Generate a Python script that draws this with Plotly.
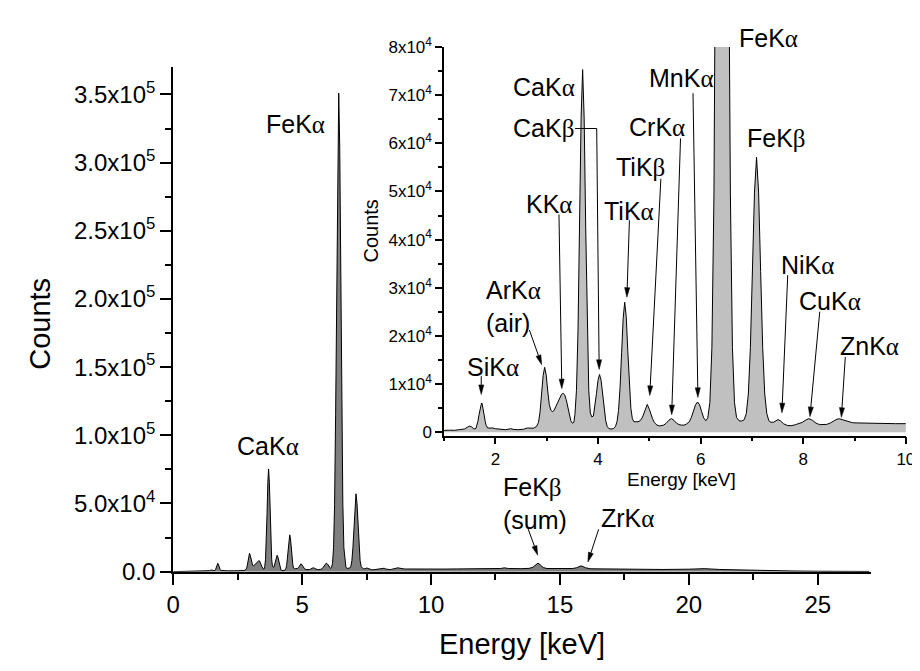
import math
import plotly.graph_objects as go

# ---------------- data ----------------
energy_kev = [0.00, 0.20, 0.40, 0.60, 0.80, 1.00, 1.10, 1.20, 1.30, 1.40, 1.46, 1.50, 1.54, 1.58, 1.62,
              1.64, 1.66, 1.68, 1.70, 1.72, 1.73, 1.74, 1.76, 1.78, 1.80, 1.82, 1.85, 1.90, 1.95, 2.00,
              2.10, 2.20, 2.30, 2.36, 2.45, 2.55, 2.62, 2.68, 2.74, 2.80, 2.84, 2.87, 2.90, 2.93, 2.96,
              2.99, 3.02, 3.05, 3.08, 3.11, 3.14, 3.17, 3.20, 3.23, 3.26, 3.29, 3.32, 3.35, 3.38, 3.41,
              3.44, 3.47, 3.50, 3.53, 3.55, 3.58, 3.61, 3.64, 3.67, 3.70, 3.73, 3.76, 3.79, 3.82, 3.85,
              3.88, 3.91, 3.94, 3.97, 4.00, 4.03, 4.06, 4.09, 4.12, 4.15, 4.18, 4.21, 4.24, 4.27, 4.30,
              4.34, 4.37, 4.40, 4.43, 4.46, 4.49, 4.52, 4.55, 4.58, 4.61, 4.64, 4.67, 4.70, 4.74, 4.78,
              4.82, 4.86, 4.89, 4.92, 4.96, 5.00, 5.03, 5.06, 5.10, 5.15, 5.20, 5.24, 5.28, 5.33, 5.38,
              5.43, 5.48, 5.53, 5.58, 5.63, 5.68, 5.72, 5.78, 5.82, 5.86, 5.90, 5.94, 5.98, 6.02, 6.06,
              6.10, 6.14, 6.18, 6.22, 6.26, 6.30, 6.34, 6.38, 6.42, 6.46, 6.50, 6.54, 6.58, 6.62, 6.66,
              6.70, 6.75, 6.80, 6.85, 6.89, 6.93, 6.97, 7.01, 7.05, 7.09, 7.13, 7.17, 7.21, 7.25, 7.29,
              7.33, 7.37, 7.42, 7.46, 7.51, 7.56, 7.62, 7.70, 7.78, 7.85, 7.92, 7.98, 8.04, 8.11, 8.18,
              8.25, 8.32, 8.39, 8.46, 8.53, 8.60, 8.66, 8.71, 8.77, 8.84, 8.90, 8.96, 9.05, 9.20, 9.40,
              9.60, 9.80, 10.00, 10.50, 11.00, 11.50, 12.00, 12.50, 12.70, 12.85, 13.00, 13.50, 13.80, 13.95, 14.05,
              14.15, 14.25, 14.35, 14.50, 15.00, 15.50, 15.65, 15.75, 15.82, 15.90, 16.00, 16.20, 17.00, 18.00, 19.00,
              20.00, 20.60, 21.20, 22.00, 23.00, 24.00, 25.00, 26.00, 27.00]

counts = [0, 50, 100, 200, 300, 400, 450, 420, 550, 700, 1100, 1300, 1100, 700, 800,
          1430, 2320, 3620, 5020, 5970, 6100, 5970, 5020, 3620, 2320, 1430, 900, 950, 900, 750,
          600, 550, 750, 600, 550, 650, 900, 800, 850, 1200, 2070, 4200, 7850, 11760, 13500,
          11900, 8600, 5800, 4600, 4300, 4500, 5200, 5600, 6300, 7200, 7900, 8100, 7800, 6800, 5200,
          3600, 2400, 1900, 2100, 3700, 8700, 21100, 42400, 65200, 75300, 65200, 42400, 21100, 8700, 4000,
          3200, 3400, 5350, 8060, 10800, 12000, 10800, 8000, 5200, 2400, 1200, 800, 700, 700, 750,
          1200, 2200, 4500, 9300, 16500, 23600, 27000, 24000, 17000, 9800, 5000, 2800, 2200, 2200, 2200,
          2400, 3000, 3800, 4800, 5800, 4800, 3800, 2900, 2000, 1500, 1330, 1350, 1500, 1900, 2500,
          2850, 2500, 1900, 1600, 1500, 1500, 1700, 2200, 3100, 4300, 5700, 6300, 5700, 4300, 3000,
          2400, 3000, 6170, 17600, 49500, 115500, 213800, 310000, 351000, 310000, 213800, 115500, 49500, 17600, 6170,
          3070, 2400, 2350, 2630, 3890, 7940, 17590, 33370, 49870, 57100, 49870, 33370, 17590, 7940, 3890,
          2400, 2100, 2100, 2350, 2650, 2350, 1750, 1400, 1400, 1600, 1800, 2050, 2500, 2850, 2500,
          1900, 1600, 1550, 1650, 1950, 2400, 2750, 2800, 2600, 2250, 2050, 2000, 1950, 1900, 1850,
          1850, 1800, 1800, 1900, 2000, 2000, 2000, 2100, 2300, 2800, 2300, 2200, 2400, 3200, 4800,
          6300, 4800, 3000, 2300, 2200, 2300, 2900, 3800, 4200, 3700, 2800, 2100, 1900, 1700, 1600,
          1800, 2200, 1600, 1200, 800, 500, 300, 200, 150]

main_x_ticks = [0, 5, 10, 15, 20, 25]
main_y_ticks = [0, 50000, 100000, 150000, 200000, 250000, 300000, 350000]
main_y_labels = ["0.0", "5.0x10<sup>4</sup>", "1.0x10<sup>5</sup>", "1.5x10<sup>5</sup>",
                 "2.0x10<sup>5</sup>", "2.5x10<sup>5</sup>", "3.0x10<sup>5</sup>", "3.5x10<sup>5</sup>"]
inset_x_ticks = [2, 4, 6, 8, 10]
inset_y_ticks = [0, 10000, 20000, 30000, 40000, 50000, 60000, 70000, 80000]
inset_y_labels = ["0"] + ["%dx10<sup>4</sup>" % k for k in range(1, 9)]

W, H = 920, 671
FONT = "Liberation Sans, Arial, sans-serif"
GR = "<span style='font-family:Liberation Serif'>%s</span>"
A = GR % "α"
B = GR % "β"


def P(x, y):
    return x / W, 1 - y / H


fig = go.Figure()
fig.add_trace(go.Scatter(x=energy_kev, y=counts, mode="lines", fill="tozeroy",
                         fillcolor="#7f7f7f", line=dict(color="black", width=1),
                         xaxis="x", yaxis="y", showlegend=False, hoverinfo="skip"))
fig.add_trace(go.Scatter(x=energy_kev, y=counts, mode="lines", fill="tozeroy",
                         fillcolor="#c0c0c0", line=dict(color="black", width=1),
                         xaxis="x2", yaxis="y2", showlegend=False, hoverinfo="skip"))

ax_common = dict(showline=True, linecolor="black", showgrid=False, zeroline=False,
                 ticks="outside", tickcolor="black", mirror=False)

fig.update_layout(
    width=W, height=H, margin=dict(l=0, r=0, t=0, b=0),
    paper_bgcolor="white", plot_bgcolor="white",
    font=dict(family=FONT, color="black"),
    xaxis=dict(**ax_common, domain=[161 / W, 871 / W], range=[0, 27.06], anchor="y",
               linewidth=2, ticklen=11, tickwidth=2,
               tickmode="array", tickvals=main_x_ticks, ticktext=[str(v) for v in main_x_ticks],
               minor=dict(dtick=2.5, tick0=0, ticklen=6, tickwidth=2, tickcolor="black", ticks="outside"),
               tickfont=dict(size=24)),
    yaxis=dict(**ax_common, domain=[(H - 573) / H, (H - 49) / H], range=[0, 370000], anchor="x",
               linewidth=2, ticklen=11, tickwidth=2,
               tickmode="array", tickvals=main_y_ticks, ticktext=main_y_labels,
               minor=dict(dtick=25000, tick0=0, ticklen=6, tickwidth=2, tickcolor="black", ticks="outside"),
               tickfont=dict(size=24)),
    xaxis2=dict(**ax_common, domain=[436.7 / W, 906.6 / W], range=[1, 10], anchor="y2",
                linewidth=1.5, ticklen=7, tickwidth=1.5,
                tickmode="array", tickvals=inset_x_ticks, ticktext=[str(v) for v in inset_x_ticks],
                minor=dict(dtick=1, tick0=1, ticklen=4, tickwidth=1.5, tickcolor="black", ticks="outside"),
                tickfont=dict(size=17)),
    yaxis2=dict(**ax_common, domain=[(H - 431.7) / H, (H - 28) / H], range=[-680, 80000], anchor="x2",
                linewidth=1.5, ticklen=7, tickwidth=1.5,
                tickmode="array", tickvals=inset_y_ticks, ticktext=inset_y_labels,
                minor=dict(dtick=5000, tick0=0, ticklen=4, tickwidth=1.5, tickcolor="black", ticks="outside"),
                tickfont=dict(size=17)),
)

LBL = 25
annotations = []
shapes = []


def label(text, cx, cy, xanchor="center", align="center", size=LBL, angle=0):
    x, y = P(cx, cy)
    annotations.append(dict(text=text, x=x, y=y, xref="paper", yref="paper", showarrow=False,
                            xanchor=xanchor, yanchor="middle", align=align, textangle=angle,
                            font=dict(size=size, family=FONT)))


def seg(p0, p1):
    x0, y0 = P(*p0)
    x1, y1 = P(*p1)
    shapes.append(dict(type="line", xref="paper", yref="paper", x0=x0, y0=y0, x1=x1, y1=y1,
                       line=dict(color="black", width=1)))


def arrow(tail, tip, length=10.0, half=2.6):
    dx, dy = tip[0] - tail[0], tip[1] - tail[1]
    n = math.hypot(dx, dy)
    ux, uy = dx / n, dy / n
    bx, by = tip[0] - ux * length, tip[1] - uy * length
    seg(tail, (bx, by))
    pts = [tip, (bx - uy * half, by + ux * half), (bx + uy * half, by - ux * half)]
    path = "M " + " L ".join("%.5f,%.5f" % P(*p) for p in pts) + " Z"
    shapes.append(dict(type="path", xref="paper", yref="paper", path=path,
                       fillcolor="black", line=dict(color="black", width=0.5)))


# main axis titles
label("Energy [keV]", 516, 648, size=29)
label("Counts", 26, 316, size=29, angle=-90)

# main chart labels
label("FeK" + A, 285, 108)
label("CaK" + A, 257, 443)
label("FeK" + B + "<br>(sum)", 495, 502, xanchor="left", align="left")
arrow((522, 528), (532, 556))
label("ZrK" + A, 594, 517, xanchor="left")
arrow((594, 529), (583, 563))

# inset axis titles
label("Counts", 362, 219, size=20, angle=-90)
label("Energy [keV]", 678, 477, size=19)

# inset labels
label("FeK" + A, 735, 19, xanchor="left")
label("CaK" + A, 538, 70)
label("CaK" + B, 538, 112)
label("KK" + A, 543, 191)
label("TiK" + A, 625, 198)
label("TiK" + B, 637, 153)
label("CrK" + A, 653, 111)
label("MnK" + A, 678, 60)
label("FeK" + B, 775, 123)
label("NiK" + A, 807, 254)
label("CuK" + A, 829, 292)
label("ZnK" + A, 870, 339)
label("ArK" + A + "<br>(air)", 477, 298, xanchor="left", align="left")
label("SiK" + A, 486, 360)

arrow((474.5, 370), (474.5, 389))
arrow((523.5, 322), (536, 358))
arrow((553.6, 202), (556.5, 383))
seg((570, 112.7), (592, 112.7))
arrow((592, 112.7), (594.5, 363))
arrow((625.3, 208), (622.7, 288))
arrow((657.3, 165), (646, 390))
arrow((677.3, 123), (668.3, 410))
arrow((690, 76), (695, 392))
arrow((786.4, 265), (780.5, 408))
arrow((819, 303), (809, 412))
arrow((845, 350), (841, 412.7))

fig.update_layout(annotations=annotations, shapes=shapes)

fig.write_html("out.html")
